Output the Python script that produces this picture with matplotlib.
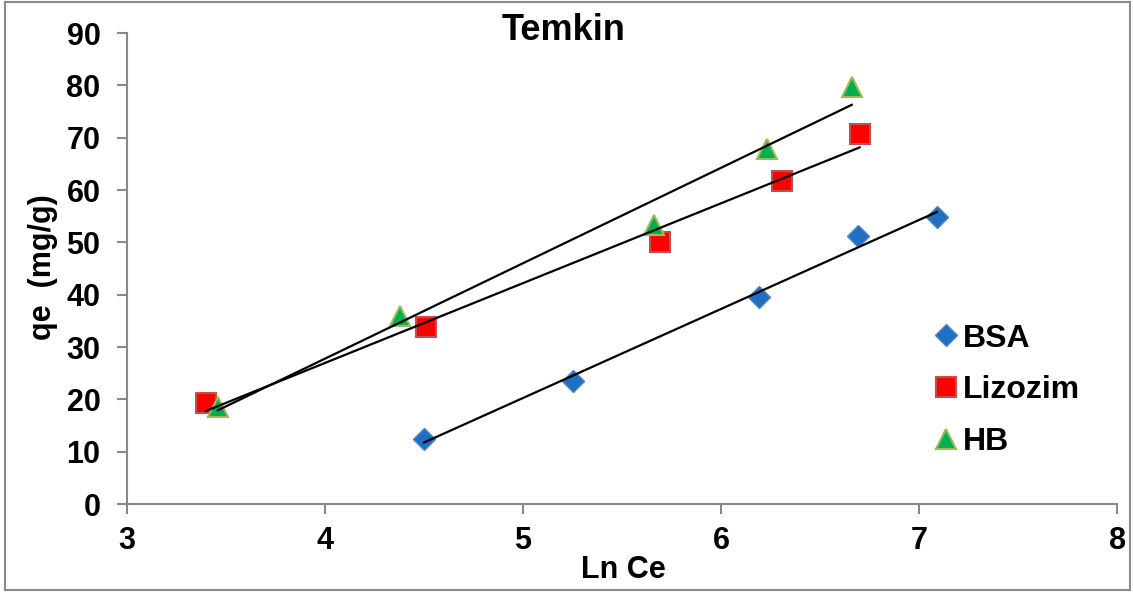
import numpy as np
import matplotlib
matplotlib.use('Agg')
import matplotlib.pyplot as plt
from matplotlib.patches import Rectangle

plt.rcParams['font.family'] = ['Liberation Sans', 'DejaVu Sans']
plt.rcParams['font.weight'] = 'bold'

# data
bsa_x = [4.50, 5.25, 6.19, 6.69, 7.09]
bsa_y = [12.4, 23.6, 39.5, 51.3, 54.8]
liz_x = [3.40, 4.51, 5.69, 6.31, 6.70]
liz_y = [19.3, 33.8, 50.0, 61.8, 70.7]
hb_x = [3.46, 4.38, 5.66, 6.23, 6.66]
hb_y = [18.6, 35.9, 53.4, 67.9, 79.6]

labels = ["BSA", "Lizozim", "HB"]
xticks = [3, 4, 5, 6, 7, 8]
yticks = [0, 10, 20, 30, 40, 50, 60, 70, 80, 90]

fig = plt.figure(figsize=(11.33, 5.92), dpi=100)
ax = fig.add_axes([0.112, 0.1486, 0.874, 0.7956])

grey = "#898989"

ax.plot(bsa_x, bsa_y, linestyle="none", marker="D", markersize=11,
        color="#1F6FC5", markeredgecolor="#4F81BD", markeredgewidth=1, label=labels[0], zorder=3)
ax.plot(liz_x, liz_y, linestyle="none", marker="s", markersize=14,
        color="#FF0000", markeredgecolor="#C0504D", markeredgewidth=1.5, label=labels[1], zorder=3)
ax.plot(hb_x, hb_y, linestyle="none", marker="^", markersize=14,
        color="#00B050", markeredgecolor="#9BBB59", markeredgewidth=1.5, label=labels[2], zorder=3)

# linear trendlines
for xs, ys in [(bsa_x, bsa_y), (liz_x, liz_y), (hb_x, hb_y)]:
    k, b = np.polyfit(xs, ys, 1)
    xx = np.array([min(xs), max(xs)])
    ax.plot(xx, k * xx + b, color="black", linewidth=1.6, zorder=4)

ax.set_xlim(3, 8)
ax.set_ylim(0, 90)
ax.set_xticks(xticks)
ax.set_yticks(yticks)
ax.spines["top"].set_visible(False)
ax.spines["right"].set_visible(False)
for s in ["left", "bottom"]:
    ax.spines[s].set_color(grey)
    ax.spines[s].set_linewidth(1.5)
ax.tick_params(direction="out", length=7, width=1.5, color=grey, labelsize=22)
ax.tick_params(axis="y", pad=12)
ax.tick_params(axis="x", pad=9)
for lab in ax.get_xticklabels() + ax.get_yticklabels():
    lab.set_fontweight("bold")

fig.text(0.497, 0.949, "Temkin", ha="center", va="center", fontsize=26, fontweight="bold")
fig.text(0.550, 0.037, "Ln Ce", ha="center", va="center", fontsize=22, fontweight="bold")
fig.text(0.038, 0.549, "qe  (mg/g)", ha="center", va="center", fontsize=22,
         fontweight="bold", rotation=90)

ax.legend(loc="upper left", bbox_to_anchor=(0.81, 0.475), bbox_transform=fig.transFigure,
          frameon=False, prop={"size": 23, "weight": "bold"}, handletextpad=0.0,
          handlelength=1.0, labelspacing=0.68, borderaxespad=0)

fig.patches.append(Rectangle((0.004, 0.003), 0.993, 0.993, transform=fig.transFigure,
                             fill=False, edgecolor=grey, linewidth=1.5))

plt.savefig("out.png", dpi=100)
